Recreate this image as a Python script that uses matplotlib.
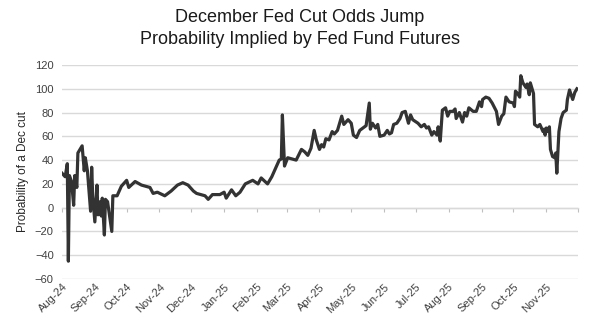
import matplotlib
matplotlib.use("Agg")
import matplotlib.pyplot as plt
import matplotlib.dates as mdates
import pandas as pd

plt.rcParams['font.family'] = ['Liberation Sans', 'DejaVu Sans']

title_lines = ["December Fed Cut Odds Jump", "Probability Implied by Fed Fund Futures"]
y_label = "Probability of a Dec cut"

dates = [
    "2024-08-01", "2024-08-04", "2024-08-06", "2024-08-07", "2024-08-08", "2024-08-10",
    "2024-08-12", "2024-08-13", "2024-08-15", "2024-08-16", "2024-08-20", "2024-08-22",
    "2024-08-23", "2024-08-25", "2024-08-26", "2024-08-28", "2024-08-29", "2024-08-30",
    "2024-09-01", "2024-09-03", "2024-09-04", "2024-09-06", "2024-09-07", "2024-09-08",
    "2024-09-10", "2024-09-11", "2024-09-13", "2024-09-17", "2024-09-18", "2024-09-22",
    "2024-09-26", "2024-10-01", "2024-10-03", "2024-10-09", "2024-10-15", "2024-10-23",
    "2024-10-26", "2024-10-30", "2024-11-06", "2024-11-12", "2024-11-18", "2024-11-23",
    "2024-11-28", "2024-12-03", "2024-12-06", "2024-12-14", "2024-12-17", "2024-12-21",
    "2024-12-28", "2025-01-01", "2025-01-03", "2025-01-08", "2025-01-12", "2025-01-16",
    "2025-01-21", "2025-01-28", "2025-02-02", "2025-02-05", "2025-02-11", "2025-02-15",
    "2025-02-18", "2025-02-22", "2025-02-24", "2025-02-25", "2025-02-27", "2025-03-02",
    "2025-03-10", "2025-03-15", "2025-03-18", "2025-03-21", "2025-03-24", "2025-03-27",
    "2025-03-29", "2025-04-01", "2025-04-03", "2025-04-05", "2025-04-07", "2025-04-10",
    "2025-04-13", "2025-04-15", "2025-04-18", "2025-04-22", "2025-04-24", "2025-04-28",
    "2025-05-01", "2025-05-03", "2025-05-06", "2025-05-09", "2025-05-12", "2025-05-15",
    "2025-05-18", "2025-05-19", "2025-05-21", "2025-05-24", "2025-05-26", "2025-05-28",
    "2025-06-01", "2025-06-04", "2025-06-06", "2025-06-08", "2025-06-10", "2025-06-13",
    "2025-06-16", "2025-06-18", "2025-06-21", "2025-06-24", "2025-06-26", "2025-06-28",
    "2025-07-03", "2025-07-06", "2025-07-09", "2025-07-11", "2025-07-13", "2025-07-16",
    "2025-07-18", "2025-07-21", "2025-07-22", "2025-07-24", "2025-07-26", "2025-07-29",
    "2025-07-31", "2025-08-02", "2025-08-05", "2025-08-07", "2025-08-08", "2025-08-11",
    "2025-08-14", "2025-08-16", "2025-08-18", "2025-08-20", "2025-08-24", "2025-08-27",
    "2025-08-30", "2025-09-01", "2025-09-02", "2025-09-05", "2025-09-08", "2025-09-11",
    "2025-09-15", "2025-09-17", "2025-09-20", "2025-09-22", "2025-09-24", "2025-09-27",
    "2025-10-01", "2025-10-02", "2025-10-03", "2025-10-05", "2025-10-07", "2025-10-08",
    "2025-10-10", "2025-10-13", "2025-10-14", "2025-10-16", "2025-10-17", "2025-10-20",
    "2025-10-21", "2025-10-24", "2025-10-26", "2025-10-29", "2025-10-30", "2025-10-31",
    "2025-11-01", "2025-11-02", "2025-11-04", "2025-11-05", "2025-11-07", "2025-11-09",
    "2025-11-10", "2025-11-11", "2025-11-13", "2025-11-15", "2025-11-17", "2025-11-20",
    "2025-11-21", "2025-11-23", "2025-11-26", "2025-11-28", "2025-11-30",
]
probability = [
    29, 26, 37, -45, 27, 22,
    2, 27, 17, 46, 52, 31,
    42, 31, 20, -3, 34, 10,
    -12, 19, -6, 5, -7, 8,
    -23, 7, 5, -20, 10, 10,
    18, 23, 17, 22, 19, 17,
    12, 13, 10, 14, 19, 21,
    19, 14, 12, 10, 7, 11,
    11, 13, 8, 15, 10, 13,
    20, 23, 20, 25, 20, 26,
    32, 40, 41, 78, 35, 42,
    40, 49, 47, 44, 50, 65,
    57, 49, 53, 51, 58, 57,
    64, 62, 65, 77, 70, 74,
    71, 61, 59, 65, 67, 69,
    88, 66, 71, 67, 70, 60,
    61, 65, 62, 63, 70, 71,
    75, 80, 81, 71, 78, 74,
    71, 68, 70, 67, 68, 61,
    64, 61, 68, 56, 82, 84,
    77, 81, 81, 83, 75, 80,
    72, 80, 77, 84, 81, 81,
    89, 85, 91, 93, 92, 88,
    81, 70, 77, 79, 93, 89,
    88, 85, 98, 96, 93, 111,
    105, 101, 104, 95, 105, 96,
    70, 68, 70, 64, 66, 61,
    67, 64, 68, 49, 43, 42,
    46, 29, 64, 75, 80, 82,
    91, 99, 91, 97, 100,
]

y_ticks = [-60, -40, -20, 0, 20, 40, 60, 80, 100, 120]
x_start, x_end = "2024-08-01", "2025-12-01"

s = pd.Series(probability, index=pd.to_datetime(dates))

fig = plt.figure(figsize=(6.0, 3.29), dpi=100)
ax = fig.add_axes([62/600, 1-279/329, (578-62)/600, (279-65)/329])

ax.plot(s.index, s.values, color="#333333", lw=2.3, solid_joinstyle="round")

ax.set_ylim(-60, 120)
ax.set_yticks(y_ticks)
ax.set_xlim(pd.Timestamp(x_start), pd.Timestamp(x_end))
ax.grid(axis="y", color="#d9d9d9", lw=1.0)
ax.set_axisbelow(True)
for sp in ax.spines.values():
    sp.set_visible(False)

ax.xaxis.set_major_locator(mdates.MonthLocator())
ax.xaxis.set_major_formatter(mdates.DateFormatter("%b-%y"))
ticks = ax.get_xticks()
ax.set_xticks(ticks[:-1])
ax.tick_params(axis="x", length=0, labelsize=8, labelcolor="#404040", pad=2)
for lab in ax.get_xticklabels():
    lab.set_rotation(45)
    lab.set_ha("right")
    lab.set_rotation_mode("anchor")
ax.tick_params(axis="y", length=0, labelsize=8, labelcolor="#404040", pad=6)
ax.set_ylabel(y_label, fontsize=8.5, color="#262626", labelpad=4)

# zero-line axis with month tick marks
frac0 = (0 - (-60)) / (120 - (-60))
sec = ax.secondary_xaxis(frac0)
sec.xaxis.set_major_locator(mdates.MonthLocator())
sec.tick_params(axis="x", direction="out", length=3, color="#bfbfbf", labelbottom=False, labeltop=False, width=0.8)
sec.spines["bottom"].set_color("#d9d9d9")
sec.spines["top"].set_visible(False)
sec.spines["bottom"].set_linewidth(1.0)

fig.text(0.5, 1-18/329, title_lines[0], ha="center", va="center", fontsize=13, color="#1a1a1a")
fig.text(0.5, 1-40/329, title_lines[1], ha="center", va="center", fontsize=13, color="#1a1a1a")

fig.savefig("out.png", dpi=100)
